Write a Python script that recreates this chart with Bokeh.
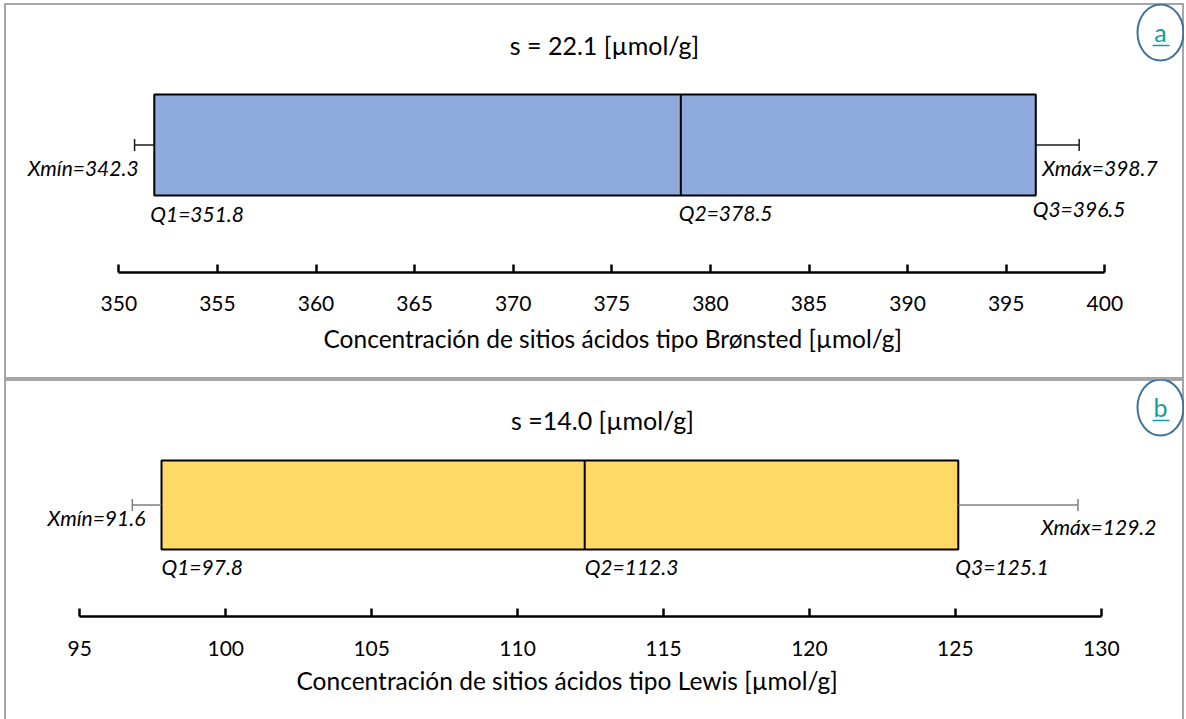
from bokeh.plotting import figure
from bokeh.models import Range1d, LinearAxis, FixedTicker, Label, Title
from bokeh.layouts import column
from bokeh.embed import file_html
from bokeh.resources import INLINE

# ---------------- data ----------------
ticks_a = [350, 355, 360, 365, 370, 375, 380, 385, 390, 395, 400]
q_a = [351.8, 378.5, 396.5]          # Q1, Q2, Q3
xmin_a = 342.3                        # labelled minimum
xmax_a = 398.7                        # labelled maximum
whisker_a = [350.8, 398.7]            # whisker ends as drawn
s_a = "22.1"
axis_title_a = "Concentración de sitios ácidos tipo Brønsted  [µmol/g]"

ticks_b = [95, 100, 105, 110, 115, 120, 125, 130]
q_b = [97.8, 112.3, 125.1]
xmin_b = 91.6
xmax_b = 129.2
whisker_b = [96.8, 129.2]
s_b = "14.0"
axis_title_b = "Concentración de sitios ácidos tipo Lewis [µmol/g]"

FONT = "Lato"
FIG_W = 1180


def make_panel(ticks, q, xmin, xmax, whisker, s_val, axis_title, letter,
               fill, whisker_color, height, frame_h, tick0_px, tickN_px,
               box_half, lab):
    pxu = (tickN_px - tick0_px) / (ticks[-1] - ticks[0])
    x0 = ticks[0] - tick0_px / pxu
    x1 = x0 + FIG_W / pxu
    y_top = lab["center_from_top"]
    y_bot = -(frame_h - lab["center_from_top"])

    def X(px):
        return x0 + px / pxu

    p = figure(width=FIG_W, height=height, x_range=Range1d(x0, x1),
               y_range=Range1d(y_bot, y_top), output_backend="svg",
               toolbar_location=None, x_axis_location=None,
               y_axis_location=None, min_border_left=0, min_border_right=0,
               min_border_top=0, min_border_bottom=int(height - frame_h))
    p.grid.visible = False
    p.outline_line_color = None
    p.background_fill_color = None
    p.border_fill_color = None

    ax = LinearAxis(ticker=FixedTicker(ticks=ticks), bounds=(ticks[0], ticks[-1]))
    ax.major_tick_in = 8
    ax.major_tick_out = 0
    ax.minor_tick_in = 0
    ax.minor_tick_out = 0
    ax.axis_line_width = 2.5
    ax.axis_line_color = "black"
    ax.major_tick_line_width = 2.5
    ax.major_tick_line_color = "black"
    ax.major_label_text_font = FONT
    ax.major_label_text_font_size = "21px"
    ax.major_label_text_color = "black"
    ax.major_label_standoff = lab["tick_standoff"]
    p.add_layout(ax, "below")

    # axis title (positioned along the frame)
    p.add_layout(Title(text=axis_title, align="left", offset=lab["axt_left"],
                       standoff=lab["axt_standoff"], text_font=FONT,
                       text_font_size="24.5px", text_font_style="normal",
                       text_color="black"), "below")

    # box
    p.quad(left=[q[0]], right=[q[2]], bottom=[-box_half], top=[box_half],
           fill_color=fill, line_color="black", line_width=2)
    p.segment(x0=[q[1]], y0=[-box_half], x1=[q[1]], y1=[box_half],
              line_color="black", line_width=2)
    # whiskers
    p.segment(x0=[whisker[0], q[2]], y0=[0, 0], x1=[q[0], whisker[1]], y1=[0, 0],
              line_color=whisker_color, line_width=1.5)
    p.segment(x0=whisker, y0=[-6, -6], x1=whisker, y1=[6, 6],
              line_color=whisker_color, line_width=1.5)

    # circled letter
    p.ellipse(x=[X(lab["circ_x"])], y=[lab["circ_y"]], width=46 / pxu, height=56,
              fill_color=None, line_color="#41719C", line_width=2)
    p.add_layout(Label(x=X(lab["circ_x"]), y=lab["letter_y"], text=letter,
                       text_font=FONT, text_font_size="25px", text_color="#149C9C",
                       text_align="center", text_baseline="middle"))
    p.segment(x0=[X(lab["circ_x"] - 8)], y0=[lab["uline_y"]],
              x1=[X(lab["circ_x"] + 9)], y1=[lab["uline_y"]],
              line_color="#149C9C", line_width=1.5)

    # title
    p.add_layout(Label(x=X(lab["title_x"]), y=lab["title_y"],
                       text="s " + lab["eq"] + s_val + " [µmol/g]",
                       text_font=FONT, text_font_size="25px", text_color="black",
                       text_align="center", text_baseline="middle"))

    it = dict(text_font=FONT, text_font_size="21px", text_font_style="italic",
              text_color="black", text_baseline="middle")
    p.add_layout(Label(x=whisker[0], y=lab["xmin_y"], x_offset=lab["xmin_dx"],
                       text=f"Xmín={xmin}", text_align="right", **it))
    p.add_layout(Label(x=whisker[1], y=lab["xmax_y"], x_offset=-37,
                       text=f"Xmáx={xmax}", text_align="left", **it))
    for i, (qq, dx, yy) in enumerate(zip(q, lab["q_dx"], lab["q_y"])):
        p.add_layout(Label(x=qq, y=yy, x_offset=dx, text=f"Q{i+1}={qq}",
                           text_align="left", **it))
    return p


# panel a: page y 3..379, axis line at page 272, box centre 144.5
lab_a = dict(center_from_top=141.5, circ_x=1156, circ_y=112.5, letter_y=113.5,
             uline_y=99.5, title_x=600, title_y=100.5, eq="= ",
             tick_standoff=23, axt_left=319, axt_standoff=16,
             xmin_y=-22.5, xmax_y=-22.5, xmin_dx=4,
             q_dx=[-4, -2, -3], q_y=[-68, -67, -63])
pa = make_panel(ticks_a, q_a, xmin_a, xmax_a, whisker_a, s_a, axis_title_a, "a",
                "#8FAADC", "#1a1a1a", 376, 269, 114.3, 1100.3, 50.5, lab_a)

# panel b: page y 379..719, axis line at page 616, box centre 504.5
lab_b = dict(center_from_top=125.5, circ_x=1156, circ_y=97.5, letter_y=98.5,
             uline_y=84.5, title_x=598, title_y=85.5, eq="=",
             tick_standoff=24, axt_left=292, axt_standoff=10,
             xmin_y=-12.5, xmax_y=-21.5, xmin_dx=13,
             q_dx=[0, 0, -3], q_y=[-61, -61, -61])
pb = make_panel(ticks_b, q_b, xmin_b, xmax_b, whisker_b, s_b, axis_title_b, "b",
                "#FFD966", "#7f7f7f", 340, 237, 75.3, 1096.8, 44.5, lab_b)

pa.styles = {"box-shadow": "inset 2px 2px 0 #a6a6a6, inset -2px -2px 0 #a6a6a6"}
pb.styles = {"box-shadow": "inset 2px 2px 0 #a6a6a6, inset -2px 0 0 #a6a6a6"}

layout = column(pa, pb, spacing=0, margin=(3, 0, 0, 4))

open("out.html", "w").write(file_html(layout, INLINE))
